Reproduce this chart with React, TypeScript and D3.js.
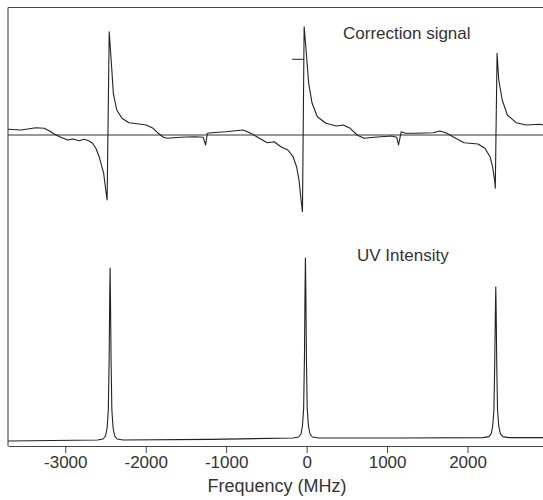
import React, { useRef, useEffect } from "react";
import * as d3 from "d3";

// frequency axis ticks (MHz)
const tickValues = [-3000, -2000, -1000, 0, 1000, 2000];

// correction signal: frequency (MHz), signal (arb. units, 0 = reference line)
const corrFreq = [
  -3712, -3551, -3365, -3262, -3179, -3138, -3055, -2971, -2909, -2827, -2765, -2703, -2661, -2620,
  -2579, -2523, -2497, -2480, -2454, -2424, -2403, -2360, -2295, -2209, -2081, -1995, -1908, -1844,
  -1780, -1737, -1565, -1393, -1285, -1256, -1234, -1178, -1006, -792, -706, -619, -490, -404, -319,
  -233, -169, -125, -95, -69, -52, -31, -10, 25, 68, 133, 240, 369, 454, 541, 627, 712, 841, 1056,
  1120, 1142, 1176, 1228, 1357, 1572, 1658, 1743, 1830, 1958, 2130, 2216, 2280, 2311, 2336, 2345,
  2367, 2388, 2431, 2495, 2603, 2732, 2903, 2938,
];
const corrValue = [
  0.057, 0.05, 0.073, 0.067, 0.033, 0.01, -0.023, -0.05, -0.04, -0.057, -0.043, -0.06, -0.083, -0.133,
  -0.217, -0.383, -0.55, -0.65, 1.033, 0.683, 0.417, 0.25, 0.167, 0.123, 0.11, 0.1, 0.067, 0.017,
  -0.023, -0.033, -0.023, -0.017, -0.023, -0.1, 0.017, 0.023, 0.033, 0.05, 0.023, -0.017, -0.077, -0.067, -0.117,
  -0.15, -0.217, -0.317, -0.45, -0.65, -0.767, 1.083, 0.883, 0.517, 0.317, 0.183, 0.117, 0.09, 0.1, 0.067, 0, -0.033, -0.023, -0.01,
  -0.023, -0.1, 0.033, 0.017, 0.017, 0.023, 0.04, 0.017, -0.023, -0.077, -0.09, -0.133, -0.217, -0.317, -0.45, -0.533,
  0.817, 0.55, 0.35, 0.2, 0.123, 0.1, 0.107, 0.1,
];

// UV intensity: frequency (MHz), intensity (arb. units)
const uvFreq = [
  -3712, -2600, -2530, -2500, -2480, -2465, -2455, -2448, -2443, -2438, -2431, -2421, -2406, -2386, -2356, -2280,
  -1200, -170, -100, -70, -52, -37, -27, -20, -15, -10, -3, 7, 22, 42, 72, 150,
  1200, 2195, 2265, 2295, 2313, 2328, 2338, 2346, 2351, 2356, 2363, 2373, 2388, 2408, 2438, 2510, 2938,
];
const uvValue = [
  -0.005, 0, 0.005, 0.02, 0.06, 0.15, 0.4, 0.7, 0.86, 0.7, 0.4, 0.15, 0.06, 0.02, 0.005, 0,
  0.003, 0.01, 0.015, 0.03, 0.07, 0.16, 0.42, 0.75, 0.91, 0.75, 0.42, 0.16, 0.07, 0.03, 0.015, 0.01,
  0.01, 0.012, 0.017, 0.032, 0.07, 0.15, 0.38, 0.64, 0.765, 0.64, 0.38, 0.15, 0.07, 0.032, 0.017, 0.012, 0.012,
];

const App = () => {
  const svgRef = useRef();
  const width = 543;
  const height = 500;

  useEffect(() => {
    const svg = d3.select(svgRef.current);
    svg.selectAll("*").remove();

    const left = 8;
    const axisY = 446;
    const ink = "#222";
    const textInk = "#333";
    const font = "'Liberation Sans', Arial, sans-serif";

    const x = d3.scaleLinear().domain([-3712, 2938]).range([left, width]);
    const yTop = d3.scaleLinear().domain([-1, 1]).range([235, 35]);
    const yBot = d3.scaleLinear().domain([0, 1]).range([440, 240]);

    // frame: top line and left line
    svg.append("line")
      .attr("x1", left).attr("x2", width)
      .attr("y1", 7.5).attr("y2", 7.5)
      .attr("stroke", "#444").attr("stroke-width", 1.1);
    svg.append("line")
      .attr("x1", left).attr("x2", left)
      .attr("y1", 7.5).attr("y2", axisY)
      .attr("stroke", "#444").attr("stroke-width", 1.1);

    // bottom axis
    const xAxis = svg.append("g")
      .attr("transform", `translate(0,${axisY})`)
      .call(d3.axisBottom(x).tickValues(tickValues).tickSize(7).tickSizeOuter(0).tickPadding(3).tickFormat(d3.format("d")));
    xAxis.select(".domain").attr("stroke", "#444").attr("stroke-width", 1.1);
    xAxis.selectAll(".tick line").attr("stroke", "#444");
    xAxis.selectAll(".tick text")
      .attr("font-family", font)
      .attr("font-size", 17)
      .attr("fill", textInk)
      .text((d) => (d < 0 ? "-" + Math.abs(d) : String(d)));

    svg.append("text")
      .attr("x", 277)
      .attr("y", 492)
      .attr("text-anchor", "middle")
      .attr("font-family", font)
      .attr("font-size", 18)
      .attr("fill", textInk)
      .text("Frequency (MHz)");

    // reference line of correction signal
    svg.append("line")
      .attr("x1", left).attr("x2", width)
      .attr("y1", yTop(0)).attr("y2", yTop(0))
      .attr("stroke", "#333").attr("stroke-width", 1);

    const corrLine = d3.line()
      .x((d, i) => x(corrFreq[i]))
      .y((d) => yTop(d));
    svg.append("path")
      .attr("d", corrLine(corrValue))
      .attr("fill", "none")
      .attr("stroke", ink)
      .attr("stroke-width", 1.1)
      .attr("stroke-linejoin", "round");

    // small mark on the centre peak
    svg.append("line")
      .attr("x1", x(-180)).attr("x2", x(-31))
      .attr("y1", yTop(0.757)).attr("y2", yTop(0.757))
      .attr("stroke", ink).attr("stroke-width", 1);

    const uvLine = d3.line()
      .x((d, i) => x(uvFreq[i]))
      .y((d) => yBot(d));
    svg.append("path")
      .attr("d", uvLine(uvValue))
      .attr("fill", "none")
      .attr("stroke", ink)
      .attr("stroke-width", 1.1)
      .attr("stroke-linejoin", "round");

    svg.append("text")
      .attr("x", 343)
      .attr("y", 39)
      .attr("font-family", font)
      .attr("font-size", 17)
      .attr("fill", textInk)
      .text("Correction signal");

    svg.append("text")
      .attr("x", 357)
      .attr("y", 261)
      .attr("font-family", font)
      .attr("font-size", 17)
      .attr("fill", textInk)
      .text("UV Intensity");
  }, []);

  return (
    <svg
      ref={svgRef}
      width={width}
      height={height}
      style={{ position: "absolute", left: 0, top: 0, background: "#fff" }}
    ></svg>
  );
};

export default App;
